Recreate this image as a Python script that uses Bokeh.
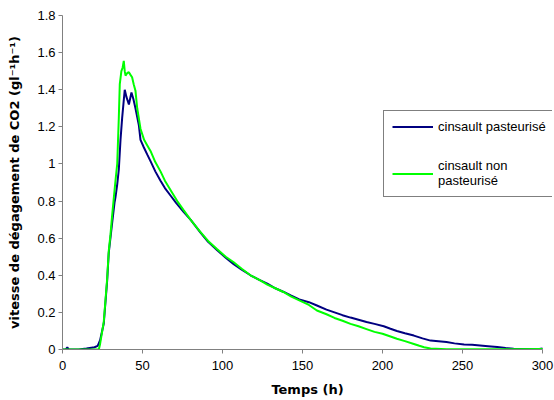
from bokeh.plotting import figure
from bokeh.models import Legend, LegendItem, FixedTicker, Range1d
from bokeh.embed import file_html
from bokeh.resources import INLINE

# ---- data ----
blue_t = [0, 2, 3, 4, 10, 15, 18, 20, 22, 23.5, 25.8, 27.9, 28.9, 31, 32.5, 33.1, 34.2, 35.2,
          36.25, 37.3, 38.9, 40, 41.5, 43.1, 44.3, 45.6, 47.7, 48.75, 50.8, 53, 55, 58, 61.25,
          64, 67.5, 71, 75.8, 80, 86.25, 91, 96.7, 102, 107, 112, 117.5, 123, 128, 133, 138.3,
          143, 148, 154, 159, 165, 170, 175, 180, 185, 190, 195, 200.8, 205, 209, 214, 219.6,
          225, 230, 235, 240, 245, 251, 256, 261, 266, 271.7, 277, 282, 290, 297, 300]
blue_v = [0, 0, 0.012, 0, 0, 0.005, 0.01, 0.012, 0.02, 0.05, 0.14, 0.37, 0.52, 0.68, 0.79, 0.82,
          0.89, 0.97, 1.13, 1.25, 1.40, 1.36, 1.32, 1.385, 1.35, 1.30, 1.21, 1.13, 1.09, 1.05,
          1.015, 0.96, 0.91, 0.87, 0.83, 0.79, 0.74, 0.70, 0.63, 0.58, 0.535, 0.495, 0.46, 0.43,
          0.40, 0.375, 0.355, 0.33, 0.31, 0.29, 0.27, 0.255, 0.237, 0.215, 0.20, 0.185, 0.172,
          0.16, 0.148, 0.138, 0.125, 0.112, 0.10, 0.088, 0.075, 0.06, 0.048, 0.044, 0.04, 0.033,
          0.027, 0.025, 0.022, 0.018, 0.013, 0.008, 0.004, 0.003, 0.002, 0.006]

green_t = [0, 10, 20, 22.7, 23.5, 25.8, 27.9, 28.9, 30, 31, 32.1, 33, 34.2, 35.2, 35.8, 36.8,
           37.6, 38.3, 38.9, 39.4, 40.5, 41.5, 42.5, 43.5, 44.5, 45.6, 46.7, 48.75, 51, 53, 55,
           58, 61.25, 64, 67.5, 71.7, 75.8, 80, 86, 91, 96.7, 102, 107, 112, 117.5, 123, 128,
           133, 138, 143, 148, 154, 159, 165, 170, 175, 180, 185, 190, 195, 200, 205, 209, 214,
           219.6, 223, 226, 230, 240, 260, 280, 300]
green_v = [0, 0, 0, 0, 0.03, 0.15, 0.38, 0.53, 0.62, 0.72, 0.82, 0.90, 1.0, 1.25, 1.43, 1.50,
           1.52, 1.555, 1.50, 1.476, 1.49, 1.494, 1.48, 1.467, 1.43, 1.395, 1.30, 1.19, 1.13,
           1.10, 1.07, 1.01, 0.96, 0.91, 0.86, 0.80, 0.75, 0.70, 0.635, 0.585, 0.54, 0.50, 0.47,
           0.435, 0.40, 0.375, 0.35, 0.33, 0.31, 0.285, 0.265, 0.24, 0.21, 0.19, 0.17, 0.155,
           0.138, 0.125, 0.11, 0.095, 0.085, 0.07, 0.058, 0.045, 0.03, 0.02, 0.012, 0.005, 0.002,
           0.002, 0.002, 0.003]

series_names = ["cinsault pasteurisé", "cinsault non\npasteurisé"]
x_ticks = [0, 50, 100, 150, 200, 250, 300]
y_ticks = [0, 0.2, 0.4, 0.6, 0.8, 1.0, 1.2, 1.4, 1.6, 1.8]
y_tick_labels = ["0", "0.2", "0.4", "0.6", "0.8", "1", "1.2", "1.4", "1.6", "1.8"]
x_title = "Temps (h)"
y_title = "vitesse de dégagement de CO2 (gl⁻¹h⁻¹)"

FONT = "Liberation Sans"

# the frame extends a little past 300 so the legend (which sits partly beyond
# the end of the x axis in the reference) is not clipped; the axis stops at 300
p = figure(width=554, height=400, output_backend="svg", toolbar_location=None,
           x_range=Range1d(0, 306.25), y_range=Range1d(0, 1.8),
           min_border_left=62, min_border_right=2, min_border_top=15, min_border_bottom=51)
p.outline_line_color = None
p.xgrid.visible = False
p.ygrid.visible = False
p.background_fill_color = "white"
p.border_fill_color = "white"

r_blue = p.line(blue_t, blue_v, line_color="#000080", line_width=2)
r_green = p.line(green_t, green_v, line_color="#00FF00", line_width=2)

for ax in (p.xaxis[0], p.yaxis[0]):
    ax.axis_line_color = "#808080"
    ax.major_tick_line_color = "#808080"
    ax.major_tick_out = 4
    ax.major_tick_in = 0
    ax.minor_tick_line_color = None
    ax.major_label_text_font = FONT
    ax.major_label_text_font_size = "13px"
    ax.major_label_text_color = "black"
    ax.axis_label_text_font = "DejaVu Sans"
    ax.axis_label_text_font_style = "bold"
    ax.axis_label_text_color = "black"

p.xaxis[0].ticker = FixedTicker(ticks=x_ticks)
p.xaxis[0].bounds = (x_ticks[0], x_ticks[-1])
p.yaxis[0].ticker = FixedTicker(ticks=y_ticks)
p.yaxis[0].major_label_overrides = {t: l for t, l in zip(y_ticks, y_tick_labels)}
p.xaxis[0].major_label_standoff = 7
p.yaxis[0].major_label_standoff = 3
p.xaxis[0].axis_label = x_title
p.yaxis[0].axis_label = y_title
p.xaxis[0].axis_label_text_font_size = "13px"
p.yaxis[0].axis_label_text_font_size = "13px"
p.xaxis[0].axis_label_standoff = 9
p.yaxis[0].axis_label_standoff = 12

legend = Legend(items=[LegendItem(label=series_names[0], renderers=[r_blue]),
                       LegendItem(label=series_names[1], renderers=[r_green])],
                location=(321, 152), padding=8, margin=0, spacing=24,
                glyph_width=41, glyph_height=15, label_height=15, label_standoff=5,
                label_text_font=FONT, label_text_font_size="13px", label_text_color="black",
                border_line_color="black", border_line_width=1,
                background_fill_color="white", background_fill_alpha=1.0)
p.add_layout(legend, "center")

open("out.html", "w").write(file_html(p, INLINE))
